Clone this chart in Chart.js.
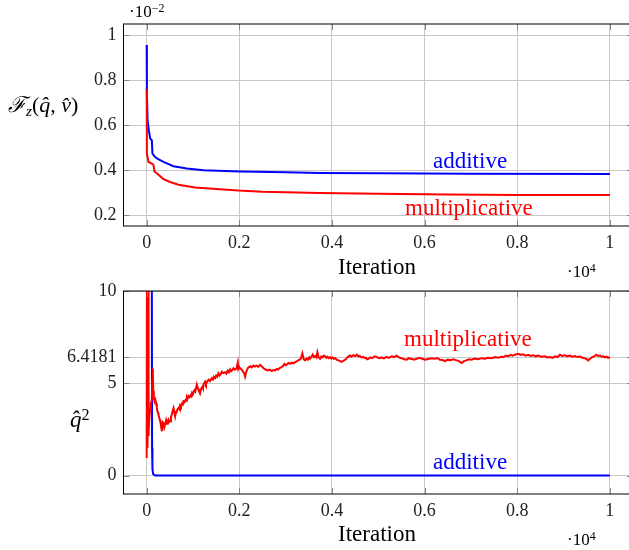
<!DOCTYPE html>
<html>
<head>
<meta charset="utf-8">
<script src="https://cdn.jsdelivr.net/npm/chart.js@4"></script>
<style>
body { margin: 0; background: #fff; }
#wrap { position: relative; width: 629px; height: 550px; overflow: hidden; font-family: 'Liberation Serif', serif; }
.box { position: absolute; left: 0; width: 640px; }
.lbl { position: absolute; white-space: nowrap; line-height: 1; }
.sup { position: relative; top: -0.45em; font-size: 0.7em; }
.sub { position: relative; top: 0.25em; font-size: 0.7em; }
</style>
</head>
<body>
<div id="wrap">
  <div class="box" style="top:0;height:280px"><canvas id="topChart"></canvas></div>
  <div class="box" style="top:280px;height:270px"><canvas id="bottomChart"></canvas></div>

  <div class="lbl" style="left:129px;top:3px;font-size:17px">·10<span class="sup">−2</span></div>
  <div class="lbl" style="left:8px;top:94px;font-size:22px"><i>ℱ</i><span class="sub"><i>z</i></span>(<i>q̂</i>, <i>v̂</i>)</div>
  <div class="lbl" style="left:433px;top:149px;font-size:23px;color:#00f">additive</div>
  <div class="lbl" style="left:405px;top:196px;font-size:23px;color:#f00">multiplicative</div>
  <div class="lbl" style="left:338px;top:255px;font-size:23px">Iteration</div>
  <div class="lbl" style="left:567px;top:263px;font-size:17px">·10<span class="sup">4</span></div>

  <div class="lbl" style="left:404px;top:327px;font-size:23px;color:#f00">multiplicative</div>
  <div class="lbl" style="left:70px;top:408px;font-size:23px"><i>q̂</i><span class="sup">2</span></div>
  <div class="lbl" style="left:433px;top:450px;font-size:23px;color:#00f">additive</div>
  <div class="lbl" style="left:338px;top:522px;font-size:23px">Iteration</div>
  <div class="lbl" style="left:567px;top:531px;font-size:17px">·10<span class="sup">4</span></div>
</div>
<script>
// Tick positions
const xTicks = [0, 2000, 4000, 6000, 8000, 10000];
const topYTicks = [0.2, 0.4, 0.6, 0.8, 1];
const bottomYTicks = [0, 5, 6.4181, 10];

// Top chart: F_z (in units of 10^-2), [iteration, value]
const fAdditive = [[0, 0.956], [5, 0.75], [20, 0.62], [47, 0.578], [75, 0.542], [112, 0.533], [125, 0.474],
  [183, 0.459], [250, 0.45], [363, 0.437], [578, 0.418], [867, 0.408], [1226, 0.4], [2017, 0.395],
  [3000, 0.391], [3743, 0.388], [5000, 0.387], [7000, 0.385], [10000, 0.384]];
const fMultiplicative = [[0, 0.76], [5, 0.474], [40, 0.437], [112, 0.43], [147, 0.424], [170, 0.395],
  [255, 0.38], [363, 0.361], [507, 0.348], [687, 0.336], [1046, 0.324], [1586, 0.316], [1981, 0.31],
  [2500, 0.305], [3743, 0.299], [5000, 0.296], [6500, 0.293], [8000, 0.291], [10000, 0.29]];

// Bottom chart: q^2, [iteration, value]
const qAdditive = [[0, 60], [100, 40], [112, 10], [117, 1.5], [125, 0.35], [140, 0.08], [183, 0], [10000, 0]];
const qMultiplicative = [
  [0, 0.95], [8, 14], [15, 1.5], [22, 14], [30, 2.2], [38, 14], [45, 2.4], [60, 3.2], [75, 3.6], [90, 3.9],
  [110, 4.1], [125, 5.2], [133, 5.8], [142, 4.6], [155, 4.2], [175, 4.0], [190, 4.1], [205, 3.9], [220, 3.7], [230, 3.5],
  [245, 3.4], [255, 3.3], [275, 3.1], [291, 3.0], [310, 2.7], [328, 2.4], [345, 2.9], [363, 2.85], [380, 2.6], [399, 2.76],
  [420, 3.0], [440, 2.8], [455, 2.95], [471, 3.03], [490, 2.9], [507, 2.94], [525, 3.15], [540, 3.3], [560, 3.5], [579, 3.66],
  [600, 3.4], [615, 3.2], [635, 3.45], [650, 3.5], [670, 3.6], [687, 3.66], [705, 3.6], [720, 3.8], [740, 3.72], [760, 3.9],
  [780, 3.85], [795, 4.03], [820, 3.98], [840, 4.1], [855, 4.05], [870, 4.25], [885, 4.18], [903, 4.3], [925, 4.24], [950, 4.35],
  [965, 4.3], [980, 4.5], [1000, 4.45], [1030, 4.62], [1050, 4.55], [1083, 4.93], [1110, 4.7], [1130, 4.58], [1154, 4.46], [1175, 4.7],
  [1200, 4.8], [1215, 4.72], [1230, 4.95], [1262, 5.09], [1280, 4.95], [1300, 5.05], [1320, 5.15], [1340, 5.2], [1370, 5.12], [1406, 5.27],
  [1430, 5.2], [1450, 5.35], [1475, 5.28], [1500, 5.42], [1525, 5.35], [1550, 5.54], [1575, 5.42], [1600, 5.5], [1625, 5.62], [1650, 5.55],
  [1694, 5.6], [1720, 5.52], [1750, 5.68], [1775, 5.6], [1801, 5.75], [1825, 5.66], [1850, 5.72], [1875, 5.82], [1900, 5.74], [1940, 5.8],
  [1967, 6.12], [1980, 5.78], [2000, 5.88], [2020, 5.8], [2053, 5.75], [2090, 5.6], [2110, 5.5], [2125, 5.36], [2150, 5.62], [2183, 5.82],
  [2210, 5.88], [2240, 5.92], [2270, 5.86], [2305, 5.96], [2340, 5.9], [2370, 5.95], [2410, 5.9], [2449, 6.0], [2480, 5.92], [2500, 5.88],
  [2530, 5.8], [2557, 5.76], [2590, 5.72], [2620, 5.7], [2660, 5.74], [2701, 5.66], [2740, 5.72], [2770, 5.7], [2810, 5.78], [2844, 5.74],
  [2870, 5.82], [2900, 5.86], [2940, 5.92], [2974, 6.05], [3000, 5.98], [3030, 6.02], [3060, 6.1], [3096, 6.05], [3130, 6.12], [3170, 6.08],
  [3200, 6.14], [3240, 6.18], [3270, 6.24], [3300, 6.28], [3330, 6.35], [3362, 6.62], [3390, 6.3], [3420, 6.24], [3450, 6.34], [3480, 6.28],
  [3510, 6.4], [3528, 6.33], [3560, 6.45], [3586, 6.55], [3610, 6.42], [3640, 6.48], [3665, 6.4], [3686, 6.68], [3710, 6.42], [3744, 6.33],
  [3770, 6.45], [3800, 6.4], [3825, 6.5], [3851, 6.46], [3880, 6.38], [3900, 6.44], [3930, 6.36], [3959, 6.42], [3985, 6.34], [4010, 6.4],
  [4040, 6.32], [4067, 6.37], [4100, 6.28], [4140, 6.24], [4175, 6.2], [4211, 6.16], [4250, 6.22], [4300, 6.3], [4340, 6.42], [4391, 6.5],
  [4420, 6.44], [4460, 6.52], [4500, 6.47], [4535, 6.55], [4570, 6.46], [4600, 6.48], [4640, 6.4], [4678, 6.43], [4710, 6.36], [4730, 6.38],
  [4760, 6.3], [4786, 6.32], [4830, 6.4], [4870, 6.36], [4920, 6.46], [4966, 6.42], [5020, 6.36], [5070, 6.4], [5120, 6.35], [5182, 6.43],
  [5230, 6.38], [5290, 6.46], [5340, 6.42], [5398, 6.5], [5450, 6.4], [5500, 6.36], [5560, 6.3], [5614, 6.28], [5660, 6.36], [5720, 6.32],
  [5770, 6.28], [5830, 6.33], [5890, 6.38], [5950, 6.33], [6010, 6.28], [6080, 6.32], [6150, 6.36], [6225, 6.33], [6280, 6.37], [6330, 6.27],
  [6390, 6.26], [6440, 6.2], [6500, 6.28], [6560, 6.25], [6620, 6.3], [6693, 6.24], [6740, 6.2], [6801, 6.1], [6850, 6.2], [6900, 6.24],
  [6960, 6.3], [7016, 6.28], [7080, 6.34], [7160, 6.3], [7230, 6.36], [7303, 6.33], [7370, 6.38], [7450, 6.36], [7520, 6.42], [7590, 6.38],
  [7650, 6.44], [7700, 6.42], [7760, 6.5], [7806, 6.46], [7860, 6.54], [7900, 6.5], [7960, 6.56], [8022, 6.6], [8080, 6.54], [8130, 6.57],
  [8180, 6.5], [8238, 6.54], [8290, 6.48], [8350, 6.52], [8400, 6.46], [8454, 6.5], [8520, 6.44], [8600, 6.46], [8650, 6.4], [8706, 6.42],
  [8760, 6.38], [8820, 6.46], [8870, 6.42], [8922, 6.55], [8970, 6.48], [9030, 6.52], [9080, 6.46], [9137, 6.5], [9190, 6.44], [9250, 6.47],
  [9300, 6.42], [9353, 6.45], [9400, 6.4], [9450, 6.36], [9490, 6.32], [9533, 6.24], [9580, 6.34], [9620, 6.42], [9660, 6.46], [9713, 6.55],
  [9750, 6.48], [9790, 6.5], [9820, 6.44], [9856, 6.46], [9890, 6.4], [9930, 6.44], [9960, 6.38], [10000, 6.41]];

const toPoints = pairs => pairs.map(([x, y]) => ({ x, y }));

// Box around the plot area with small inward tick marks
const framePlugin = {
    id: 'frame',
    afterDraw(chart) {
        const { ctx, chartArea: a, scales } = chart;
        ctx.save();
        ctx.strokeStyle = '#888';
        ctx.lineWidth = 1;
        ctx.beginPath();
        scales.x.ticks.forEach(t => {
            const px = Math.round(scales.x.getPixelForValue(t.value)) + 0.5;
            ctx.moveTo(px, a.bottom); ctx.lineTo(px, a.bottom - 6);
            ctx.moveTo(px, a.top); ctx.lineTo(px, a.top + 6);
        });
        scales.y.ticks.forEach(t => {
            const py = Math.round(scales.y.getPixelForValue(t.value)) + 0.5;
            ctx.moveTo(a.left, py); ctx.lineTo(a.left + 6, py);
            ctx.moveTo(a.right, py); ctx.lineTo(a.right - 6, py);
        });
        ctx.stroke();
        ctx.strokeStyle = '#000';
        ctx.strokeRect(a.left, a.top, a.right - a.left, a.bottom - a.top);
        ctx.restore();
    }
};

function makeChart(id, datasets, yMin, yMax, yTicks, padTop, xHeight) {
    const tickFont = { family: 'Liberation Serif', size: 18 };
    return new Chart(document.getElementById(id), {
        type: 'line',
        data: { datasets },
        options: {
            responsive: true,
            maintainAspectRatio: false,
            animation: false,
            layout: { padding: { top: padTop, right: 7, left: 0, bottom: 0 } },
            plugins: { legend: { display: false }, tooltip: { enabled: false } },
            elements: { point: { radius: 0 }, line: { tension: 0 } },
            scales: {
                x: {
                    type: 'linear',
                    min: -500,
                    max: 10500,
                    afterBuildTicks: s => { s.ticks = xTicks.map(v => ({ value: v })); },
                    afterFit: s => { s.height = xHeight; s.paddingLeft = 0; s.paddingRight = 0; },
                    ticks: { font: tickFont, color: '#222', padding: 6, maxRotation: 0,
                        callback: v => String(Math.round(v / 1000) / 10) },
                    grid: { color: '#c8c8c8', drawTicks: false },
                    border: { display: false }
                },
                y: {
                    min: yMin,
                    max: yMax,
                    afterBuildTicks: s => { s.ticks = yTicks.map(v => ({ value: v })); },
                    afterFit: s => { s.width = 123.5; s.paddingTop = 0; s.paddingBottom = 0; },
                    ticks: { font: tickFont, color: '#222', padding: 7, callback: v => String(v) },
                    grid: { color: '#c8c8c8', drawTicks: false },
                    border: { display: false }
                }
            }
        },
        plugins: [framePlugin]
    });
}

makeChart('topChart', [
    { data: toPoints(fMultiplicative), borderColor: '#f00', borderWidth: 2 },
    { data: toPoints(fAdditive), borderColor: '#00f', borderWidth: 2 }
], 0.153, 1.049, topYTicks, 24, 54);

makeChart('bottomChart', [
    { data: toPoints(qMultiplicative), borderColor: '#f00', borderWidth: 2 },
    { data: toPoints(qAdditive), borderColor: '#00f', borderWidth: 2 }
], -1, 10, bottomYTicks, 11, 56);
</script>
</body>
</html>
